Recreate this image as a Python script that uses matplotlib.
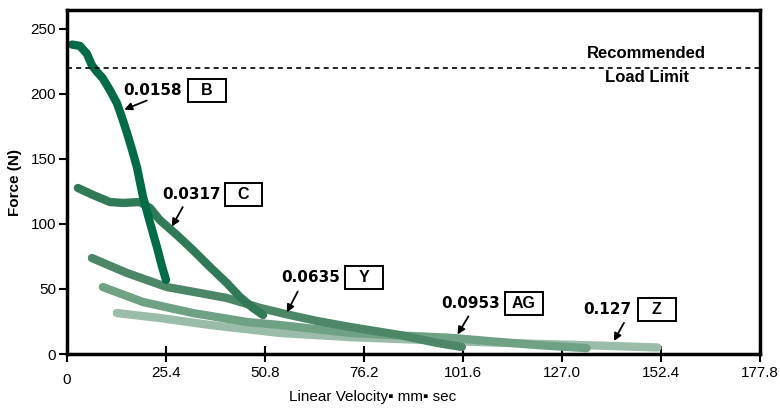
import matplotlib.pyplot as plt
from matplotlib.patches import Rectangle

# curve data (velocity mm/sec, force N)
b_x = [1.3, 3.3, 5.1, 6.4, 7.7, 9.2, 11.0, 12.8, 14.1, 15.4, 16.7, 18.0, 19.5, 21.3, 23.1, 24.4, 25.4]
b_y = [238, 237, 231, 222, 217, 212, 203, 193, 182, 170, 157, 143, 121, 101, 82, 67, 57]

c_x = [2.8, 6.7, 11.0, 14.4, 18.7, 21.3, 23.8, 28.2, 32.3, 36.7, 41.0, 44.4, 47.7, 50.3]
c_y = [127.7, 122.3, 116.9, 116.2, 116.9, 112.3, 103.1, 91.5, 80, 66.9, 54.6, 43.8, 35.4, 30]

y_x = [6.4, 15.4, 25.6, 34.1, 41.0, 49.5, 56.4, 64.0, 72.6, 85.4, 95.0, 101.3]
y_y = [73.8, 62.3, 51.5, 46.9, 43.1, 35.5, 30.5, 25.5, 20.8, 14.6, 8.5, 5.4]

ag_x = [9.2, 19.5, 32.3, 46.2, 54.6, 72.6, 85.0, 98.2, 110.0, 120.5, 133.3]
ag_y = [51.5, 40, 31.5, 24.6, 22.3, 16.2, 14.3, 12.5, 9.5, 6.9, 4.5]

z_x = [12.8, 23.8, 36.7, 54.6, 72.6, 98.2, 118.0, 137.4, 151.5]
z_y = [31.5, 27.7, 22.3, 16.2, 13.0, 10.0, 8.0, 6.4, 5.0]

curve_colors = ['#9bbca8', '#6fa185', '#4c8868', '#307a57', '#006b45']

xticks = [0, 25.4, 50.8, 76.2, 101.6, 127.0, 152.4, 177.8]
xtick_labels = ['0', '25.4', '50.8', '76.2', '101.6', '127.0', '152.4', '177.8']
yticks = [0, 50, 100, 150, 200, 250]
load_limit = 220

labels = ['0.0158', '0.0317', '0.0635', '0.0953', '0.127']
codes = ['B', 'C', 'Y', 'AG', 'Z']
# arrow heads / tails, label right edges and box centres (data units)
heads = [(14.7, 188), (26.9, 98), (56.4, 32), (100.2, 15), (140.3, 10)]
tails = [(20.5, 195), (29.7, 113), (59.2, 48), (103.0, 29), (142.9, 24)]
text_pos = [(29.5, 203), (39.5, 123), (70.0, 58.5), (111.0, 39.2), (144.9, 34.6)]
box_pos = [(35.9, 202.7), (45.3, 123), (76.3, 58.5), (117.2, 39.2), (151.3, 34.6)]
box_w, box_h = 9.7, 17.7

narrow = ['Liberation Sans Narrow', 'Liberation Sans', 'DejaVu Sans']
sans = ['Liberation Sans', 'DejaVu Sans']

fig = plt.figure(figsize=(7.8, 4.11), dpi=100)
ax = fig.add_axes([67 / 780, 57 / 411, 693 / 780, 344 / 411])

curves = [(z_x, z_y), (ag_x, ag_y), (y_x, y_y), (c_x, c_y), (b_x, b_y)]
for (xs, ys), col in zip(curves, curve_colors):
    ax.plot(xs, ys, color=col, lw=6, solid_capstyle='round', solid_joinstyle='round')

ax.axhline(load_limit, color='black', lw=1.2, ls=(0, (3, 2.5)))
ax.text(148.7, 231.5, 'Recommended', ha='center', va='center', fontsize=12,
        fontweight='bold', family=sans)
ax.text(148.7, 212.5, 'Load Limit', ha='center', va='center', fontsize=12,
        fontweight='bold', family=sans)

for lab, code, hd, tl, tp, bp in zip(labels, codes, heads, tails, text_pos, box_pos):
    ax.annotate('', xy=hd, xytext=tl,
                arrowprops=dict(arrowstyle='-|>', color='black', lw=1.3,
                                mutation_scale=11, shrinkA=0, shrinkB=0))
    ax.text(tp[0], tp[1], lab, ha='right', va='center', fontsize=11,
            fontweight='bold', family=['DejaVu Sans'])
    ax.add_patch(Rectangle((bp[0] - box_w / 2, bp[1] - box_h / 2), box_w, box_h,
                           fc='white', ec='black', lw=1.4, zorder=3))
    ax.text(bp[0], bp[1], code, ha='center', va='center', fontsize=11.5,
            fontweight='bold', family=sans, zorder=4)

ax.set_xlim(0, 177.8)
ax.set_ylim(0, 264.6)
ax.set_xticks(xticks)
ax.set_xticklabels(xtick_labels, family=narrow, fontsize=11)
ax.set_yticks(yticks)
ax.set_yticklabels([str(v) for v in yticks], family=sans, fontsize=11)
ax.tick_params(axis='x', direction='inout', length=11, width=1.5, pad=3)
ax.tick_params(axis='y', direction='out', length=6, width=1.5, pad=2)
ax.get_xticklabels()[0].set_y(-0.02)

for s in ax.spines.values():
    s.set_linewidth(2.5)

ax.set_ylabel('Force (N)', fontsize=11, fontweight='bold', family=sans, labelpad=6)
ax.set_xlabel('Linear Velocity\u25aa mm\u25aa sec', fontsize=11, family=narrow)
ax.xaxis.set_label_coords(0.4416, -0.105)

fig.savefig('out.png', dpi=100)
